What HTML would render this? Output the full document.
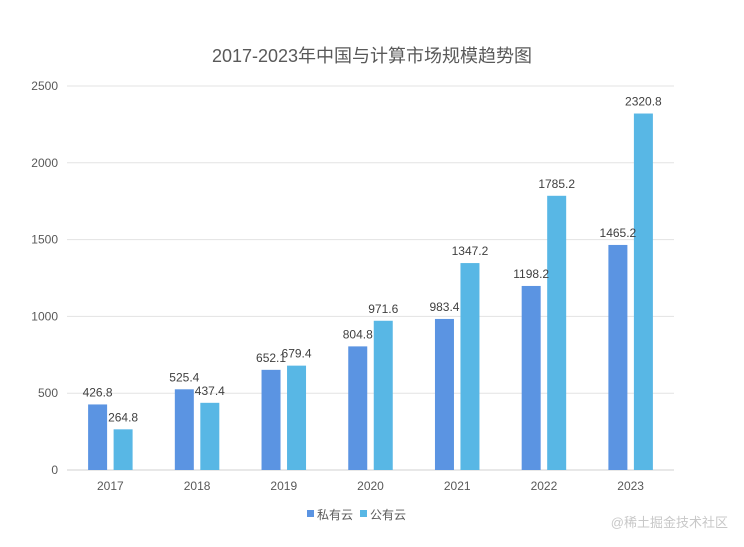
<!DOCTYPE html>
<html><head><meta charset="utf-8"><style>
body{margin:0;background:#fff}
svg{display:block;font-family:"Liberation Sans","Noto Sans CJK SC",sans-serif}
</style></head><body>
<svg id="c" width="744" height="547">
<text x="372" y="62" text-anchor="middle" font-size="18" fill="#595959">2017-2023年中国与计算市场规模趋势图</text>
<g id="grid"></g><g id="bars"></g><g id="labels"></g>
<g>
<rect x="307" y="510" width="7" height="7" fill="#5B94E2"/>
<text x="317" y="519" font-size="12" fill="#595959">私有云</text>
<rect x="360" y="510" width="7" height="7" fill="#58B7E5"/>
<text x="370" y="519" font-size="12" fill="#595959">公有云</text>
</g>
<text x="728" y="527" text-anchor="end" font-size="13" fill="#c8c8c8">@稀土掘金技术社区</text>
</svg>
<script>
const categories=["2017","2018","2019","2020","2021","2022","2023"];
const privateCloud=[426.8,525.4,652.1,804.8,983.4,1198.2,1465.2];
const publicCloud=[264.8,437.4,679.4,971.6,1347.2,1785.2,2320.8];
const yTicks=[0,500,1000,1500,2000,2500];
const NS="http://www.w3.org/2000/svg";
const x0=67,x1=674,y0=470,y1=86,ymax=2500;
const y=v=>y0-(v/ymax)*(y0-y1);
const band=(x1-x0)/categories.length;
const xc=i=>x0+band*(i+0.5);
function mk(tag,attrs,parent){const e=document.createElementNS(NS,tag);for(const k in attrs)e.setAttribute(k,attrs[k]);document.getElementById(parent).appendChild(e);return e;}
yTicks.forEach(t=>{
 const l=mk('line',{x1:x0,x2:x1,y1:y(t),y2:y(t),stroke:t===0?'#d0d0d0':'#e3e3e3','stroke-width':1},'grid');
 
 
 const tx=mk('text',{x:58,y:y(t)+4,'text-anchor':'end','font-size':12,fill:'#595959'},'grid');
 tx.textContent=t;
 
 
});
const bw=19,gap=6.5;
categories.forEach((c,i)=>{
 const tx=mk('text',{x:xc(i),y:y0+20,'text-anchor':'middle','font-size':12,fill:'#595959'},'labels');
 tx.textContent=c;
 
 
 [[privateCloud,'#5B94E2',-1,'private'],[publicCloud,'#58B7E5',1,'public']].forEach(([arr,col,s,nm])=>{
  const bx=s<0?xc(i)-gap/2-bw:xc(i)+gap/2;
  const r=mk('rect',{x:bx,y:y(arr[i]),width:bw,height:y0-y(arr[i]),fill:col},'bars');
  
  
  const lb=mk('text',{x:bx+bw/2,y:y(arr[i])-8,'text-anchor':'middle','font-size':12,fill:'#404040'},'labels');
  lb.textContent=arr[i];
  
  
 });
});
</script>
</body></html>
